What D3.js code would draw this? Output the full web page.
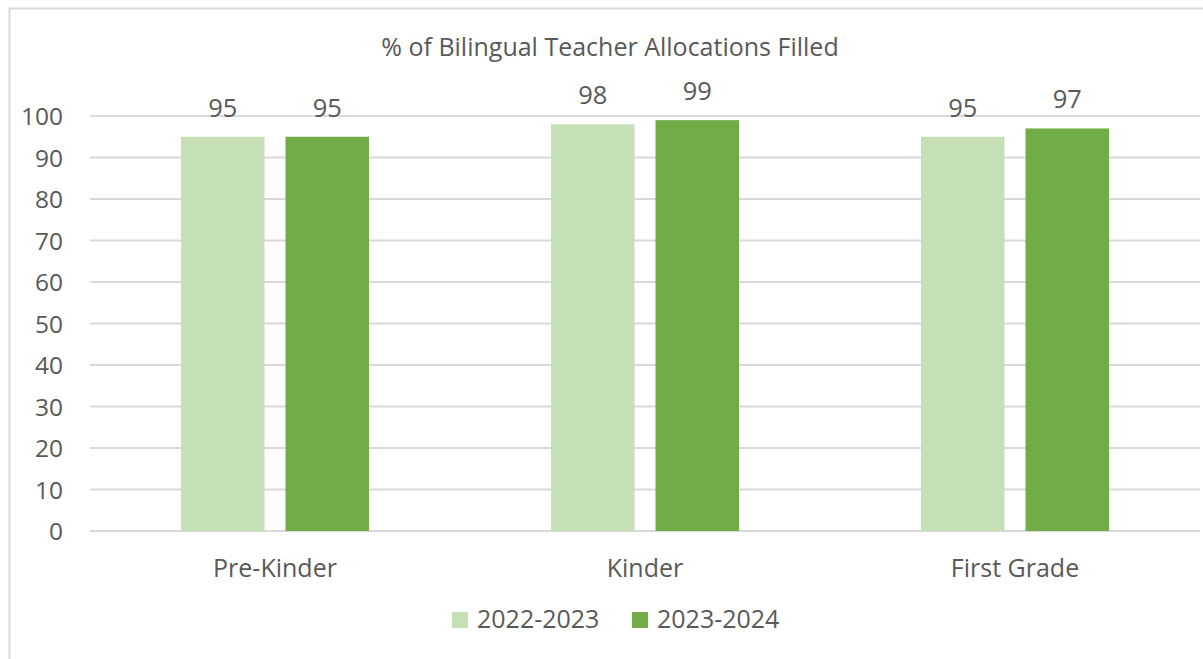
<!DOCTYPE html>
<html><head><meta charset="utf-8">
<script src="https://cdn.jsdelivr.net/npm/d3@7"></script>
<style>body{margin:0;background:#fff}svg{display:block}text{font-family:"Open Sans","Liberation Sans",sans-serif;fill:#595959}</style>
</head><body><svg id="c" width="1203" height="659"></svg>
<script>
const categories = ["Pre-Kinder", "Kinder", "First Grade"];
const seriesNames = ["2022-2023", "2023-2024"];
const values2022 = [95, 98, 95];
const values2023 = [95, 99, 97];
const yTicks = [0, 10, 20, 30, 40, 50, 60, 70, 80, 90, 100];
const colors = ["#c5e0b4", "#70ad47"];
const title = "% of Bilingual Teacher Allocations Filled";

const svg = d3.select("#c");
const series = [values2022, values2023];

// frame
svg.append("path").attr("d","M9.5,659 L9.5,8.5 L1203,8.5").attr("fill","none").attr("stroke","#d9d9d9").attr("stroke-width",2);

const x0 = d3.scaleBand().domain(categories).range([90, 1200]);
const x1 = d3.scaleBand().domain(seriesNames).range([0, 188]).paddingInner(21/104.5);
const y = d3.scaleLinear().domain([0, 100]).range([531, 116]);

// gridlines
svg.append("g").selectAll("line").data(yTicks).join("line")
  .attr("x1", 90).attr("x2", 1200).attr("y1", d => y(d)).attr("y2", d => y(d))
  .attr("stroke", "#d9d9d9").attr("stroke-width", 2);

// y labels
svg.append("g").selectAll("text").data(yTicks).join("text")
  .attr("x", 63).attr("y", d => y(d) + 9).attr("text-anchor", "end")
  .style("font-size", "24.5px").text(d => d);

// bars
categories.forEach((c, i) => {
  const g = svg.append("g").attr("transform", `translate(${x0(c) + (x0.bandwidth() - 188) / 2},0)`);
  seriesNames.forEach((s, j) => {
    const v = series[j][i];
    g.append("rect").attr("x", x1(s)).attr("width", x1.bandwidth())
      .attr("y", y(v)).attr("height", y(0) - y(v)).attr("fill", colors[j]);
    g.append("text").attr("x", x1(s) + x1.bandwidth() / 2).attr("y", y(v) - 20)
      .attr("text-anchor", "middle").style("font-size", "25.5px").text(v);
  });
  svg.append("text").attr("x", x0(c) + x0.bandwidth() / 2).attr("y", 577)
    .attr("text-anchor", "middle").style("font-size", "25px").text(c);
});

// title
svg.append("text").attr("x", 610).attr("y", 56).attr("text-anchor", "middle")
  .style("font-size", "25px").text(title);

// legend
const legX = [452, 632];
seriesNames.forEach((s, j) => {
  svg.append("rect").attr("x", legX[j]).attr("y", 612).attr("width", 16).attr("height", 16).attr("fill", colors[j]);
  svg.append("text").attr("x", legX[j] + 25).attr("y", 628)
    .style("font-size", "25px").text(s);
});
</script></body></html>
